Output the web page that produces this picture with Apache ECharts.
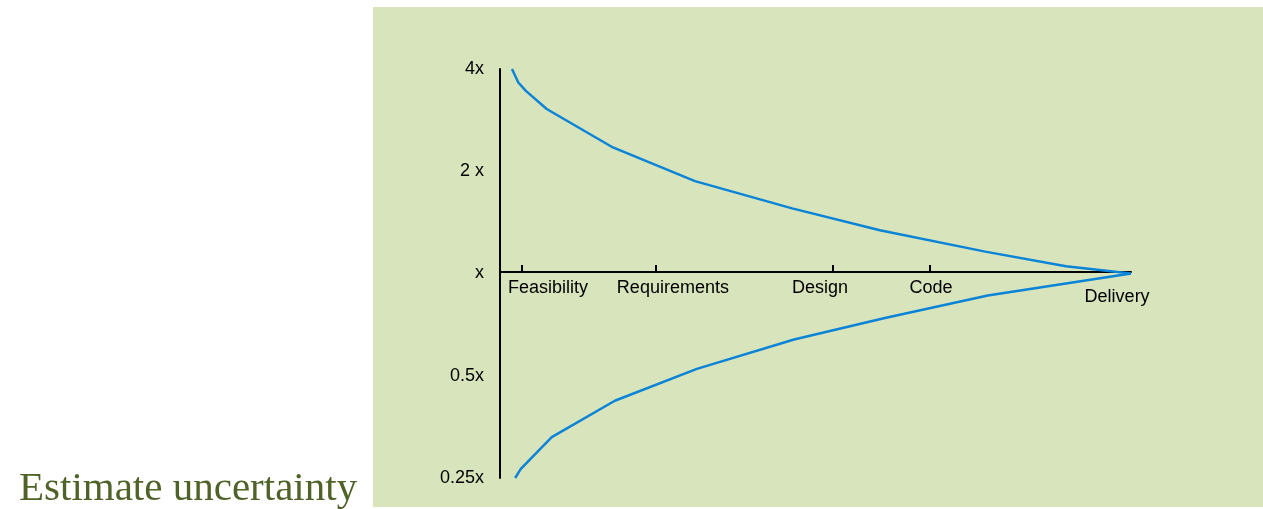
<!DOCTYPE html>
<html>
<head>
<meta charset="utf-8">
<script src="https://cdn.jsdelivr.net/npm/echarts@6/dist/echarts.min.js"></script>
<style>
html,body{margin:0;padding:0;background:#fff;}
#chart{width:1263px;height:509px;}
</style>
</head>
<body>
<div id="chart"></div>
<script>
// Project timeline position (0 = start, 100 = delivery) and estimate multiplier
const upperX = [1.9, 2.9, 4.1, 7.4, 17.9, 30.9, 46.3, 60.2, 76.9, 89.7, 100];
const upperY = [4.0, 3.65, 3.45, 3.05, 2.35, 1.87, 1.555, 1.34, 1.16, 1.05, 1.0];
const lowerX = [2.4, 3.3, 8.2, 18.2, 31.2, 46.6, 61.0, 77.3, 100];
const lowerY = [0.25, 0.266, 0.330, 0.422, 0.524, 0.639, 0.74, 0.861, 1.0];

const milestoneNames = ['Feasibility', 'Requirements', 'Design', 'Code', 'Delivery'];
const milestoneTicks = [3.5, 24.7, 52.8, 68.1];
const milestoneLabelPos = [7.6, 27.4, 50.7, 68.3, 97.8];

const yTickValues = [0.25, 0.5, 1, 2, 4];
const yTickLabels = ['0.25x', '0.5x', 'x', '2 x', '4x'];

const titleText = 'Estimate uncertainty';

const chart = echarts.init(document.getElementById('chart'));
const pair = (xs, ys) => xs.map((x, i) => [x, ys[i]]);

chart.setOption({
  backgroundColor: '#ffffff',
  animation: false,
  graphic: [
    { type: 'rect', z: -10, shape: { x: 373, y: 7, width: 890, height: 500 }, style: { fill: '#d8e4bc' } }
  ],
  title: {
    text: titleText,
    left: 14,
    top: 464,
    textStyle: { fontFamily: '"Liberation Serif", "Times New Roman", serif', fontWeight: 'normal', fontSize: 41, color: '#4f6228' }
  },
  grid: { left: 500, right: 132, top: 69, bottom: 31, containLabel: false },
  xAxis: {
    type: 'value', min: 0, max: 100,
    offset: -206,
    splitLine: { show: false },
    axisLine: { show: true, lineStyle: { color: '#000', width: 2 } },
    axisTick: { show: true, inside: true, length: 7, customValues: milestoneTicks, lineStyle: { color: '#000', width: 2 } },
    axisLabel: {
      customValues: milestoneLabelPos,
      margin: 7,
      fontFamily: '"Liberation Sans", Arial, sans-serif',
      fontSize: 18,
      color: '#000',
      formatter: function (v) {
        const i = milestoneLabelPos.indexOf(v);
        const name = milestoneNames[i];
        return i === milestoneNames.length - 1 ? '{low|' + name + '}' : name;
      },
      rich: { low: { fontFamily: '"Liberation Sans", Arial, sans-serif', fontSize: 18, color: '#000', padding: [9, 0, 0, 0] } }
    }
  },
  yAxis: {
    type: 'log', logBase: 2, min: 0.25, max: 4,
    splitLine: { show: false },
    axisLine: { show: true, lineStyle: { color: '#000', width: 2 } },
    axisTick: { show: false },
    axisLabel: {
      margin: 16,
      fontFamily: '"Liberation Sans", Arial, sans-serif',
      fontSize: 18,
      color: '#000',
      formatter: function (v) {
        let best = 0;
        yTickValues.forEach((t, i) => { if (Math.abs(t - v) < Math.abs(yTickValues[best] - v)) best = i; });
        return yTickLabels[best];
      }
    }
  },
  series: [
    { type: 'line', data: pair(upperX, upperY), symbol: 'none', lineStyle: { color: '#0b84d8', width: 2.5 } },
    { type: 'line', data: pair(lowerX, lowerY), symbol: 'none', lineStyle: { color: '#0b84d8', width: 2.5 } }
  ]
});
</script>
</body>
</html>
